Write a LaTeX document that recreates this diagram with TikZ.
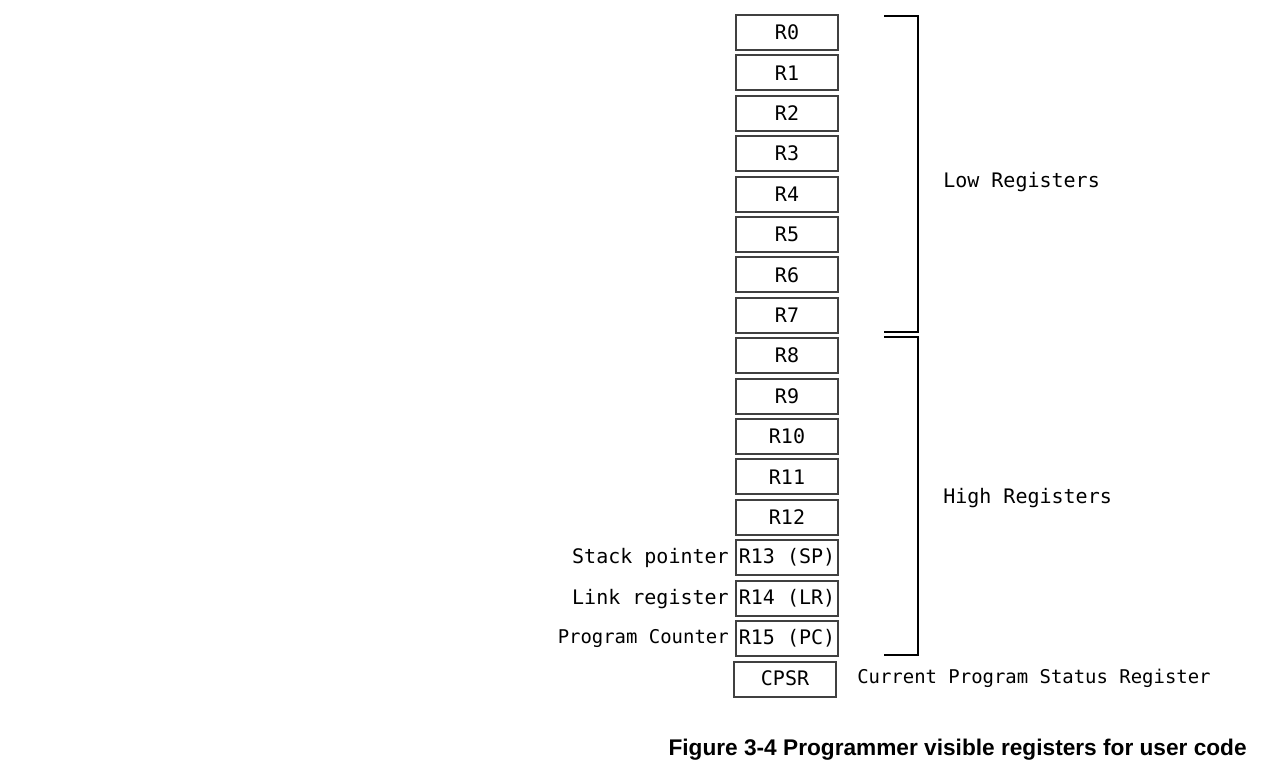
\documentclass[tikz,border=0pt]{standalone}
\usepackage{fontspec}
\setmainfont{Liberation Sans}
\newfontfamily\regfont{DejaVu Sans Mono}
\usetikzlibrary{positioning}

\tikzset{
	reg/.style={draw=black!75, line width=1.5pt, minimum width=76.5pt, minimum height=26.25pt, inner sep=0pt, font=\regfont\fontsize{15}{18}\selectfont},
	lbl/.style={font=\regfont\fontsize{15}{18}\selectfont, inner sep=0pt},
	smalllbl/.style={font=\regfont\fontsize{14.2}{17}\selectfont, inner sep=0pt},
	bracket/.style={line width=1.5pt}
}

\begin{document}
\begin{tikzpicture}[x=0.75pt, y=-0.75pt]
	\useasboundingbox (0, 0) rectangle (1270, 763);

	\foreach \i in {0,...,12} {
		\node[reg] (r\i) at (787, 32.5+40.4*\i) {R\i};
	}
	\node[reg] (r13) at (787, 32.5+40.4*13) {R13 (SP)};
	\node[reg] (r14) at (787, 32.5+40.4*14) {R14 (LR)};
	\node[reg] (r15) at (787, 32.5+40.4*15) {R15 (PC)};
	\node[reg] (cpsr) at (785, 679) {\raisebox{2pt}{CPSR}};

	\node[lbl, anchor=east] (sp) at (729, 558) {Stack pointer};
	\node[lbl, anchor=east] (lr) at (729, 599) {Link register};
	\node[smalllbl, anchor=east] (pc) at (729, 639) {Program Counter};

	% brackets
	\coordinate (lowtop) at (884, 16);
	\coordinate (lowbot) at (884, 332);
	\coordinate (hightop) at (884, 337);
	\coordinate (highbot) at (884, 655);
	\draw[bracket] (lowtop) -- ++(34, 0) |- (lowbot);
	\draw[bracket] (hightop) -- ++(34, 0) |- (highbot);

	\node[lbl, anchor=west] (low) at (943, 182) {Low Registers};
	\node[lbl, anchor=west] (high) at (943, 498) {High Registers};
	\node[smalllbl, anchor=west] (cpsrtext) at (857, 678) {Current Program Status Register};

	\node[anchor=base east, inner sep=0pt, font=\bfseries\fontsize{17}{20}\selectfont] (caption) at (1247, 755) {Figure 3-4 Programmer visible registers for user code};
\end{tikzpicture}
\end{document}
